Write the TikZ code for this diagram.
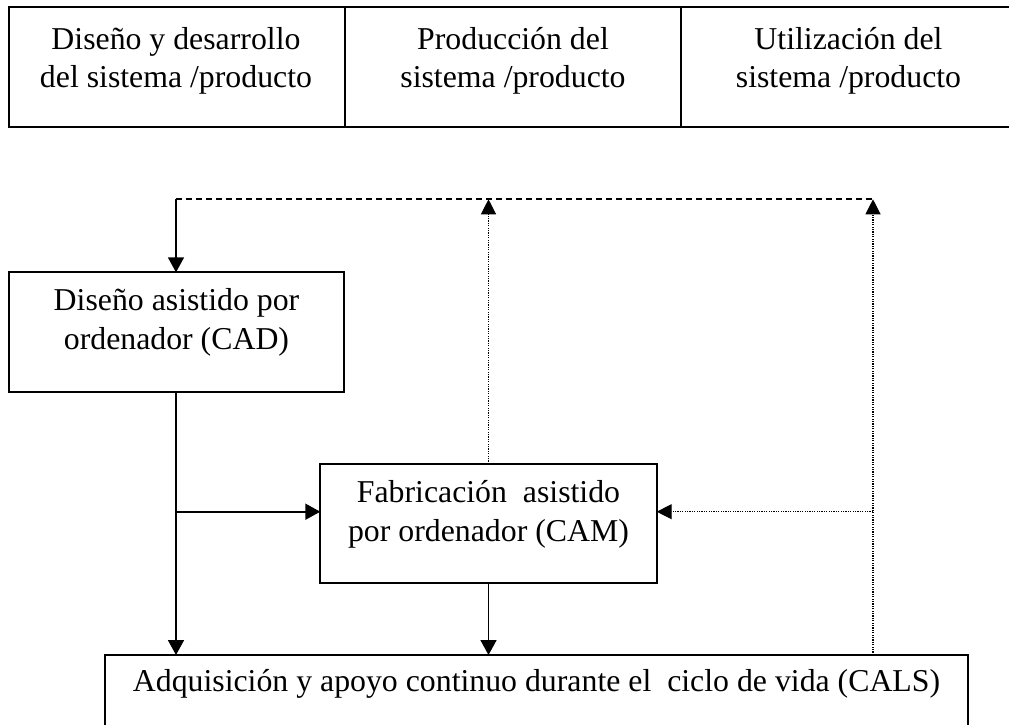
\documentclass[tikz,border=0pt]{standalone}
\usepackage{fontspec}
\setmainfont{Liberation Serif}
\usetikzlibrary{arrows.meta}
\begin{document}
\begin{tikzpicture}[x=1pt,y=-1pt,
  frame/.style={draw=black, line width=2pt, inner sep=0pt, outer sep=0pt},
  open/.style={inner sep=0pt, outer sep=0pt},
  framel/.style={draw=black, line width=2pt},
  lbl/.style={font=\fontsize{31.8}{38.6}\selectfont, align=center, inner sep=0pt, anchor=base},
  conn/.style={line width=1.7pt, -{Triangle[length=15pt,width=16pt]}},
  dotconn/.style={line width=1.2pt, dash pattern=on 1.2pt off 1.2pt, -{Triangle[length=15pt,width=15pt]}},
  dashline/.style={line width=2pt, dash pattern=on 6pt off 4pt}]
\useasboundingbox (0,0) rectangle (1009,725);

% top row
\node[frame, minimum width=336pt, minimum height=119.4pt] (p1) at (177,67) {};
\node[frame, minimum width=336pt, minimum height=119.4pt] (p2) at (513,67) {};
\node[open, minimum width=328pt, minimum height=119.4pt] (p3) at (845,67) {};
\draw[framel] (p3.north west) -- (p3.north east);
\draw[framel] (p3.south west) -- (p3.south east);
\node[lbl] (t1) at (176,87.8) {Diseño y desarrollo\\del sistema /producto};
\node[lbl] (t2) at (513,87.8) {Producción del\\sistema /producto};
\node[lbl] (t3) at (848.5,87.8) {Utilización del\\sistema /producto};

% boxes
\node[frame, minimum width=335pt, minimum height=119.4pt] (cad) at (176.5,332) {};
\node[lbl] (cadt) at (176.5,349) {Diseño asistido por\\ordenador (CAD)};

\node[frame, minimum width=336.4pt, minimum height=119.3pt] (cam) at (488.5,523.7) {};
\node[lbl] (camt) at (488.5,541.2) {Fabricación\ \ asistido\\por ordenador (CAM)};

\node[open, minimum width=863pt, minimum height=70pt] (cals) at (536.5,690) {};
\draw[framel] (cals.south west) |- (cals.north east) -- (cals.south east);
\node[lbl] (calst) at (536.5,691.7) {Adquisición y apoyo continuo durante el\ \ ciclo de vida (CALS)};

% connectors
\coordinate (cl) at (176,199.3);
\coordinate (cr) at (873,199.3);
\coordinate (jl) at (176,511.7);
\coordinate (jr) at (873,511.7);
\draw[dashline] (cl) -- (cr);
\draw[conn] (cl) -- (cl |- cad.north);
\draw[dotconn] (cam.north) -- (cam.north |- cl);
\draw[dotconn] (cr |- cals.north) -- (cr);
\draw[dotconn] (jr) -- (jr -| cam.east);
\draw[conn] (cad.south -| cl) -- (cl |- cals.north);
\draw[conn] (jl) -- (jl -| cam.west);
\draw[conn] (cam.south) -- (cam.south |- cals.north);
\end{tikzpicture}
\end{document}
